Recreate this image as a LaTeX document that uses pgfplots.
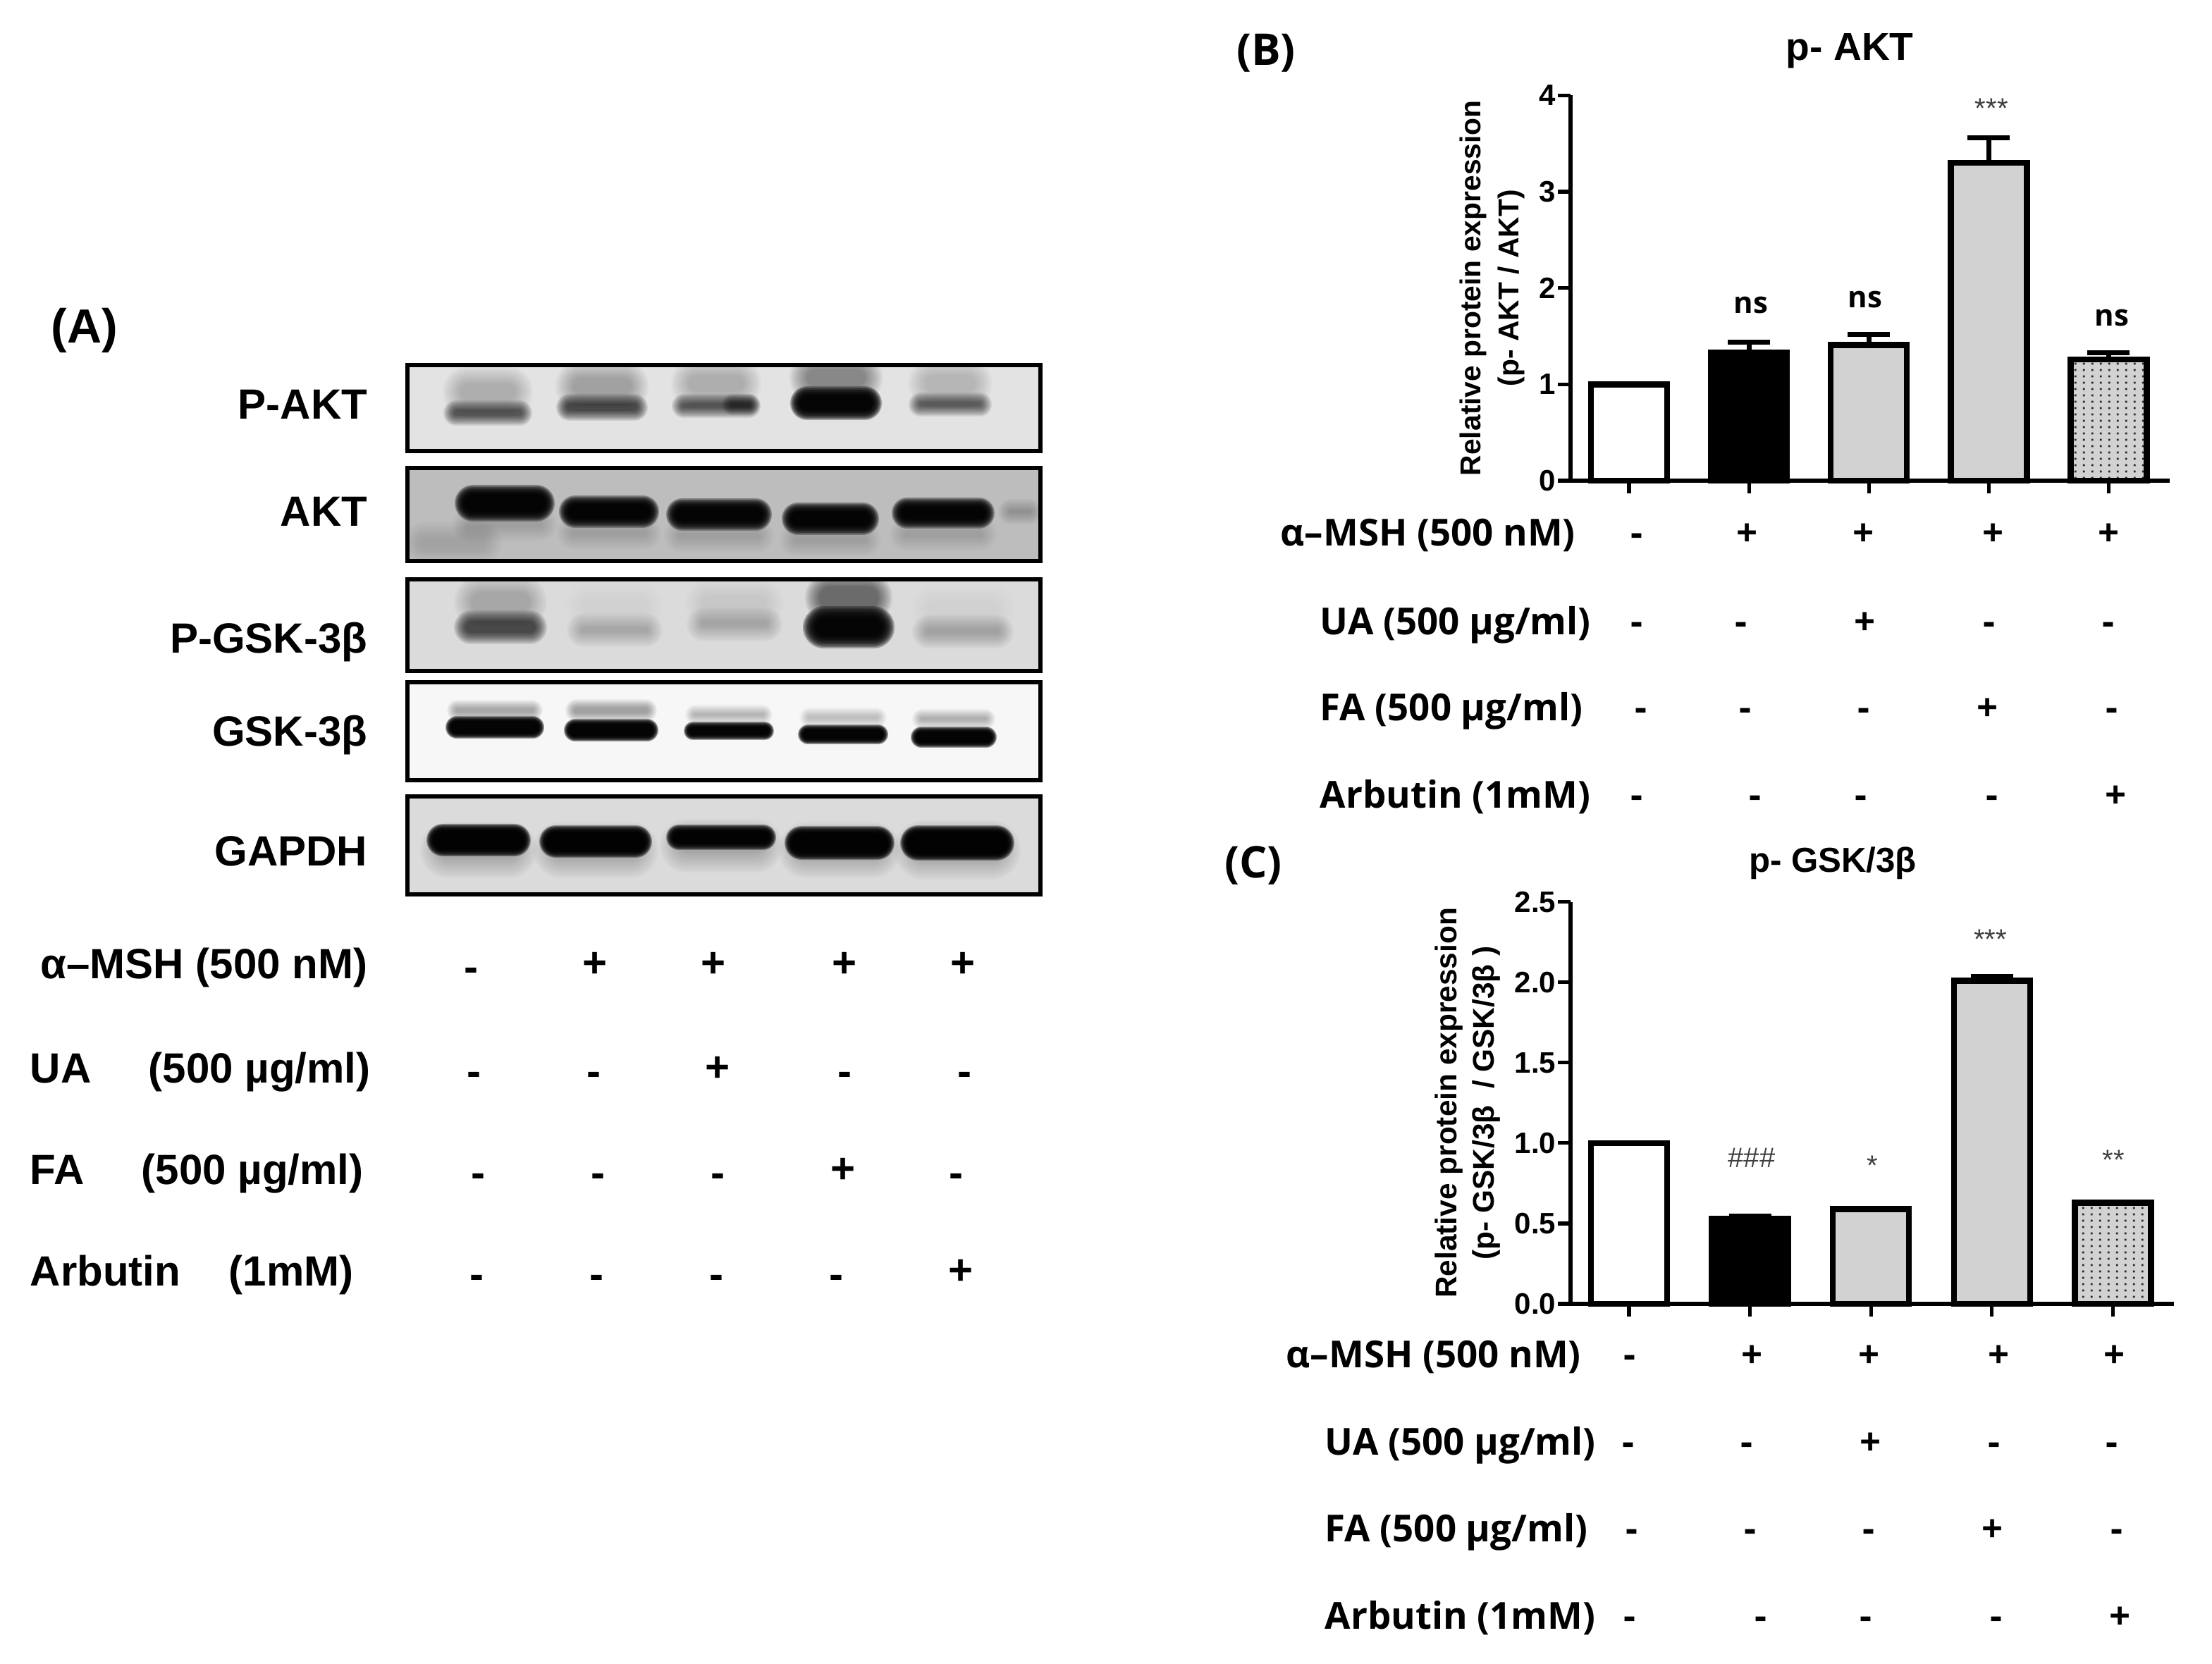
\documentclass[border=0pt]{standalone}
\usepackage{fontspec}
\setmainfont{Liberation Sans}
\newfontfamily\mg{Open Sans}
\usepackage{pgfplots}
\pgfplotsset{compat=1.18}
\usetikzlibrary{patterns}
\definecolor{barg}{HTML}{D2D2D2}
\pgfdeclarepatternformonly{ptdots}{\pgfpointorigin}{\pgfqpoint{2.87bp}{2.12bp}}{\pgfqpoint{2.87bp}{2.12bp}}{\pgfpathrectangle{\pgfqpoint{1bp}{0.7bp}}{\pgfqpoint{.7bp}{.7bp}}\pgfusepath{fill}}
\newcommand{\fs}[1]{\fontsize{#1bp}{#1bp}\selectfont}
% band: x1,x2,yc,h,opacity,blur
\newcommand{\band}[6]{%
 \pgfmathsetmacro\st{1-(1-#5)^(0.1)}%
 \foreach \i in {0,...,9}{%
  \pgfmathsetmacro\g{#6*(0.5-\i/9)}%
  \pgfmathsetmacro\rad{0.25*max(#4+2*\g,1)}%
  \fill[black,fill opacity=\st,rounded corners=\rad bp] ({#1-\g},{#3-max(#4/2+\g,0.5)}) rectangle ({#2+\g},{#3+max(#4/2+\g,0.5)});
 }}
\newcommand{\lbl}[3]{\node[anchor=mid east,inner sep=0pt,yshift=-2.5bp,font=\fs{15}\bfseries] at (#1,#2) {#3};}
\newcommand{\la}[3]{\node[anchor=mid west,inner sep=0pt,yshift=-2.5bp,font=\fs{15}\bfseries] at (#1,#2) {#3};}
\newcommand{\ma}[3]{\node[anchor=mid,inner sep=0pt,yshift=-2.5bp,font=\fs{15}\bfseries] at (#1,#2) {#3};}
\newcommand{\rb}[3]{\node[anchor=mid west,inner sep=0pt,yshift=-2bp,font=\fs{13.2}\mg\bfseries] at (#1,#2) {#3};}
\newcommand{\mb}[3]{\node[anchor=mid,inner sep=0pt,yshift=-2bp,font=\fs{13.2}\mg\bfseries] at (#1,#2) {#3};}
\pgfplotsset{barax/.style={
  scale only axis,clip=false,anchor=south west,
  axis x line*=bottom,axis y line*=left,
  axis line style={-,line width=1.7bp},
  tick align=outside,major tick length=4.5bp,
  every tick/.style={black,line width=1.3bp},
  xtick={0,1,2,3,4},xticklabels={},
  ybar,bar width=27bp,bar shift=0pt,
  tick label style={font=\fs{10.5}\bfseries},
  yticklabel style={inner xsep=0.5bp},
  title style={font=\fs{13.8}\bfseries,anchor=mid,inner sep=0pt},
  ylabel style={align=center,anchor=center},
  bb/.style={draw=black,line width=2.1bp,
    error bars/y dir=plus,error bars/y explicit,
    error bars/error bar style={line width=1.7bp},
    error bars/error mark options={rotate=90,mark size=7.5bp,line width=1.7bp}},
}}
\begin{document}
\begin{tikzpicture}[x=0.5bp,y=-0.5bp]
\path[use as bounding box] (0,0) rectangle (1569,1180.5);
% ---------- Panel A ----------
\node[anchor=mid,inner sep=0pt,yshift=-2.5bp,font=\fs{17}\bfseries] at (60,233) {(A)};
% blot 1
\begin{scope}\clip (289,259) rectangle (738,320);
\fill[black!11] (289,259) rectangle (738,320);
\band{320}{372}{278}{24}{.22}{12}\band{318}{374}{293}{11}{.6}{7}
\band{400}{454}{274}{24}{.28}{12}\band{398}{456}{289}{12}{.65}{7}
\band{482}{534}{272}{24}{.22}{12}\band{480}{536}{288}{10}{.6}{7}\band{515}{536}{287}{9}{.5}{6}
\band{566}{620}{268}{24}{.38}{12}\band{564}{622}{286}{17}{.97}{7}
\band{650}{698}{272}{24}{.18}{12}\band{648}{700}{287}{10}{.55}{7}
\end{scope}
\draw[line width=1.3bp] (289,259) rectangle (738,320);
% blot 2
\begin{scope}\clip (289,332) rectangle (738,398);
\fill[black!26] (289,332) rectangle (738,398);
\band{292}{350}{385}{18}{.12}{12}
\band{326}{390}{372}{14}{.15}{10}\band{400}{464}{378}{14}{.15}{10}\band{476}{544}{380}{14}{.15}{10}\band{558}{620}{383}{14}{.15}{10}\band{636}{702}{379}{14}{.15}{10}
\band{326}{390}{357}{19}{.97}{7}\band{400}{464}{363}{16}{.97}{7}\band{476}{544}{365}{16}{.97}{7}
\band{558}{620}{368}{16}{.97}{7}\band{636}{702}{364}{15}{.97}{7}\band{712}{735}{363}{10}{.2}{8}
\end{scope}
\draw[line width=1.3bp] (289,332) rectangle (738,398);
% blot 3
\begin{scope}\clip (289,411) rectangle (738,476);
\fill[black!14] (289,411) rectangle (738,476);
\band{328}{382}{427}{26}{.2}{12}\band{326}{384}{445}{16}{.65}{8}
\band{407}{465}{430}{22}{.05}{12}\band{407}{465}{447}{14}{.22}{10}
\band{492}{550}{428}{22}{.08}{12}\band{492}{550}{443}{14}{.2}{10}
\band{576}{628}{424}{26}{.5}{10}\band{574}{630}{445}{21}{.97}{9}
\band{652}{714}{432}{22}{.05}{12}\band{652}{714}{448}{14}{.25}{10}
\end{scope}
\draw[line width=1.3bp] (289,411) rectangle (738,476);
% blot 4
\begin{scope}\clip (289,484) rectangle (738,553.5);
\fill[black!3] (289,484) rectangle (738,553.5);
\band{320}{382}{504}{9}{.3}{6}\band{318}{384}{516}{12}{.98}{4}
\band{404}{463}{504}{10}{.32}{6}\band{402}{465}{518}{12}{.98}{4}
\band{489}{545}{507}{8}{.25}{6}\band{487}{547}{518.5}{9}{.98}{4}
\band{570}{626}{509}{8}{.22}{6}\band{568}{628}{521}{10}{.98}{4}
\band{650}{703}{510}{8}{.28}{6}\band{648}{705}{523}{11}{.98}{4}
\end{scope}
\draw[line width=1.3bp] (289,484) rectangle (738,553.5);
% blot 5
\begin{scope}\clip (289,565) rectangle (738,634.5);
\fill[black!14] (289,565) rectangle (738,634.5);
\band{305}{374}{603}{26}{.2}{14}\band{385}{460}{603}{26}{.2}{14}\band{475}{548}{600}{24}{.2}{14}\band{559}{632}{603}{26}{.2}{14}\band{641}{717}{603}{28}{.2}{14}
\band{305}{374}{596}{18}{.98}{5}\band{385}{460}{597}{18}{.98}{5}\band{475}{548}{594}{13}{.98}{5}
\band{559}{632}{598}{19}{.98}{5}\band{641}{717}{598}{20}{.98}{5}
\end{scope}
\draw[line width=1.3bp] (289,565) rectangle (738,634.5);
% blot names
\lbl{261}{287}{P-AKT}\lbl{261}{363}{AKT}\lbl{261}{453}{P-GSK-3β}\lbl{261}{519}{GSK-3β}\lbl{261}{604}{GAPDH}
% treatment rows A
\lbl{261}{684}{α–MSH (500 nM)}
\la{21}{758}{UA}\la{105}{758}{(500 µg/ml)}
\la{21}{830}{FA}\la{100}{830}{(500 µg/ml)}
\la{21}{902}{Arbutin}\la{162}{902}{(1mM)}
\ma{334}{686}{-}\ma{422}{683}{+}\ma{506}{683}{+}\ma{599}{683}{+}\ma{683}{683}{+}
\ma{336}{760}{-}\ma{421}{760}{-}\ma{509}{757}{+}\ma{599}{760}{-}\ma{684}{760}{-}
\ma{339}{832}{-}\ma{424}{832}{-}\ma{509}{832}{-}\ma{598}{829}{+}\ma{678}{832}{-}
\ma{338}{904}{-}\ma{423}{904}{-}\ma{508}{904}{-}\ma{593}{904}{-}\ma{681.5}{901}{+}
% ---------- Panel B ----------
\node[anchor=mid,inner sep=0pt,yshift=-2.5bp,font=\fs{15.5}\mg\bfseries] at (898,36) {(B)};
\begin{axis}[barax,at={(557bp,-170.5bp)},width=212.5bp,height=136.65bp,
  xmin=-0.488,xmax=4.51,ymin=0,ymax=4,ytick={0,1,2,3,4},yticklabels={0,1,2,3,4},
  title={p- AKT},title style={at={(axis description cs:0.466,1.066)}},
  ylabel={Relative protein expression\\(p- AKT / AKT)},
  ylabel style={at={(axis description cs:-0.1306,0.5)},font=\fontsize{10.2bp}{13.5bp}\selectfont\bfseries}]
\addplot[bb,fill=white] coordinates {(0,1.00)};
\addplot[bb,fill=black] coordinates {(1,1.33) +- (0,0.11)};
\addplot[bb,fill=barg] coordinates {(2,1.41) +- (0,0.11)};
\addplot[bb,fill=barg] coordinates {(3,3.30) +- (0,0.26)};
\addplot[bb,preaction={fill=barg},pattern=ptdots,pattern color=black!85] coordinates {(4,1.26) +- (0,0.07)};
\end{axis}
\node[anchor=mid,inner sep=0pt,yshift=-1.5bp,font=\fs{10.5}\mg\bfseries] at (1242,214) {ns};
\node[anchor=mid,inner sep=0pt,yshift=-1.5bp,font=\fs{10.5}\mg\bfseries] at (1323,210) {ns};
\node[anchor=mid,inner sep=0pt,yshift=-1.5bp,font=\fs{10.5}\mg\bfseries] at (1498,223) {ns};
\node[anchor=center,inner sep=0pt,font=\fs{10},text=black!75] at (1412.6,77) {***};
\rb{908}{378}{α–MSH (500 nM)}\rb{936}{441}{UA (500 µg/ml)}\rb{936}{502}{FA (500 µg/ml)}\rb{936}{564}{Arbutin (1mM)}
\mb{1161}{378}{-}\mb{1239.5}{378}{+}\mb{1322}{378}{+}\mb{1414}{378}{+}\mb{1496}{378}{+}
\mb{1161}{441}{-}\mb{1235}{441}{-}\mb{1323}{441}{+}\mb{1411}{441}{-}\mb{1495.6}{441}{-}
\mb{1164}{502}{-}\mb{1238}{502}{-}\mb{1322}{502}{-}\mb{1410}{502}{+}\mb{1498}{502}{-}
\mb{1161}{564}{-}\mb{1245}{564}{-}\mb{1320}{564}{-}\mb{1413}{564}{-}\mb{1501}{564}{+}
% ---------- Panel C ----------
\node[anchor=mid,inner sep=0pt,yshift=-2.5bp,font=\fs{15.5}\mg\bfseries] at (889,612.5) {(C)};
\begin{axis}[barax,at={(557bp,-462.5bp)},width=214bp,height=142.6bp,
  xmin=-0.4837,xmax=4.505,ymin=0,ymax=2.5,ytick={0,0.5,1,1.5,2,2.5},
  yticklabels={0.0,0.5,1.0,1.5,2.0,2.5},
  title={p- GSK/3β},title style={at={(axis description cs:0.4346,1.05)},font=\fs{12.3}\bfseries},
  ylabel={Relative protein expression\\(p- GSK/3β~~/ GSK/3β~)},
  ylabel style={at={(axis description cs:-0.1706,0.5)},font=\fontsize{10.6bp}{13.2bp}\selectfont\bfseries}]
\addplot[bb,fill=white] coordinates {(0,1.00)};
\addplot[bb,fill=black] coordinates {(1,0.53) +- (0,0.015)};
\addplot[bb,fill=barg] coordinates {(2,0.59)};
\addplot[bb,fill=barg] coordinates {(3,2.01) +- (0,0.025)};
\addplot[bb,preaction={fill=barg},pattern=ptdots,pattern color=black!85] coordinates {(4,0.63)};
\end{axis}
\node[anchor=center,inner sep=0pt,font=\fs{10},text=black!75] at (1242.5,821.6) {\#\#\#};
\node[anchor=center,inner sep=0pt,font=\fs{10},text=black!75] at (1328,827) {*};
\node[anchor=center,inner sep=0pt,font=\fs{10},text=black!75] at (1411.7,666.5) {***};
\node[anchor=center,inner sep=0pt,font=\fs{10},text=black!75] at (1499,823) {**};
\rb{912}{961}{α–MSH (500 nM)}\rb{939.5}{1023}{UA (500 µg/ml)}\rb{939.5}{1084.5}{FA (500 µg/ml)}\rb{939.5}{1146.7}{Arbutin (1mM)}
\mb{1155.8}{961}{-}\mb{1243}{961}{+}\mb{1326}{961}{+}\mb{1417.6}{961}{+}\mb{1500}{961}{+}
\mb{1155}{1023}{-}\mb{1239}{1023}{-}\mb{1327}{1023}{+}\mb{1414.5}{1023}{-}\mb{1498}{1023}{-}
\mb{1157.6}{1084.5}{-}\mb{1241.6}{1084.5}{-}\mb{1325.5}{1084.5}{-}\mb{1413.5}{1084.5}{+}\mb{1501.5}{1084.5}{-}
\mb{1155.8}{1146.7}{-}\mb{1249}{1146.7}{-}\mb{1323.6}{1146.7}{-}\mb{1416}{1146.7}{-}\mb{1504}{1146.7}{+}
\end{tikzpicture}
\end{document}
